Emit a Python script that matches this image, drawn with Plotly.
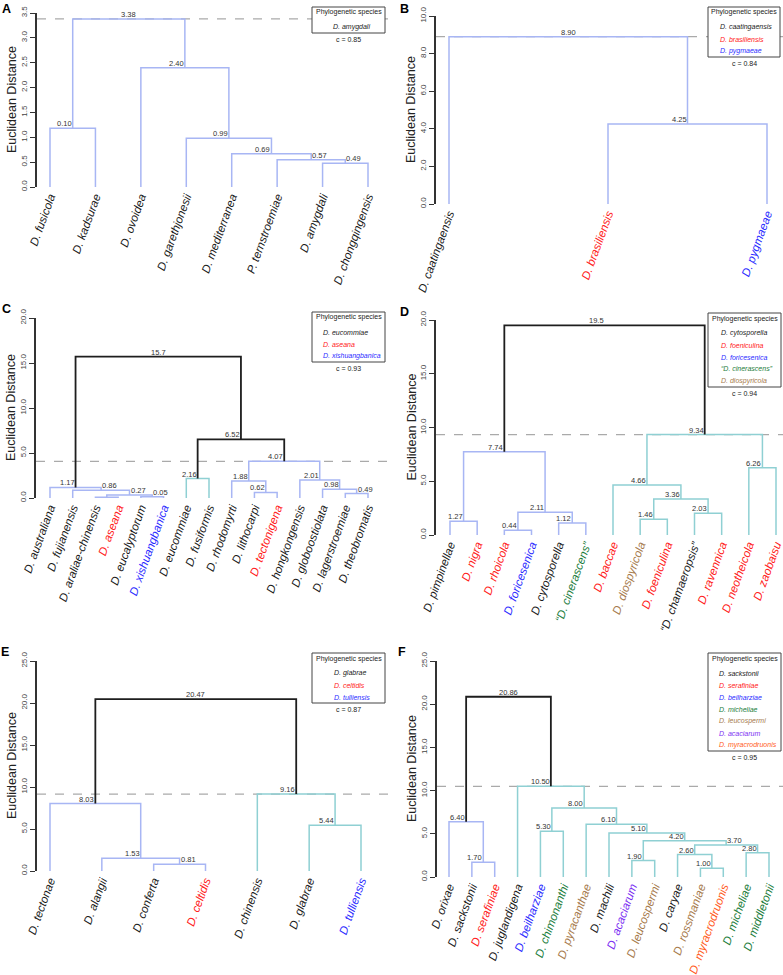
import plotly.graph_objects as go

W, H = 783, 975

# ======================= DATA =======================
# Panel A
A_leaves = ["D. fusicola", "D. kadsurae", "D. ovoidea", "D. garethjonesii",
            "D. mediterranea", "P. ternstroemiae", "D. amygdali", "D. chongqingensis"]
A_leaf_group = ["k", "k", "k", "k", "k", "k", "k", "k"]
A_left = [6, 5, 4, 3, 0, 2, 12]
A_right = [7, 8, 9, 10, 1, 11, 13]
A_height = [0.48, 0.55, 0.67, 0.98, 1.18, 2.40, 3.38]
A_label = ["0.49", "0.57", "0.69", "0.99", "0.10", "2.40", "3.38"]
A_cut = 3.38
A_legend = ["D. amygdali"]
A_legend_group = ["k"]
A_coph = "c = 0.85"

# Panel B
B_leaves = ["D. caatingaensis", "D. brasiliensis", "D. pygmaeae"]
B_leaf_group = ["k", "r", "b"]
B_left = [1, 0]
B_right = [2, 3]
B_height = [4.25, 8.90]
B_label = ["4.25", "8.90"]
B_cut = 8.90
B_legend = ["D. caatingaensis", "D. brasiliensis", "D. pygmaeae"]
B_legend_group = ["k", "r", "b"]
B_coph = "c = 0.84"

# Panel C
C_leaves = ["D. australiana", "D. fujianensis", "D. araliae-chinensis", "D. aseana",
            "D. eucalyptorum", "D. xishuangbanica", "D. eucommiae", "D. fusiformis",
            "D. rhodomyrti", "D. lithocarpi", "D. tectonigena", "D. hongkongensis",
            "D. globoostiolata", "D. lagerstroemiae", "D. theobromatis"]
C_leaf_group = ["k", "k", "k", "r", "k", "b", "k", "k", "k", "k", "r", "k", "k", "k", "k"]
C_left = [2, 4, 15, 1, 0, 6, 9, 8, 13, 12, 11, 22, 20, 19]
C_right = [3, 5, 16, 17, 18, 7, 10, 21, 14, 23, 24, 25, 26, 27]
C_height = [0.08, 0.15, 0.33, 0.86, 1.17, 2.16, 0.62, 1.88, 0.49, 0.98, 2.01, 4.07, 6.52, 15.7]
C_label = ["", "0.05", "0.27", "0.86", "1.17", "2.16", "0.62", "1.88", "0.49", "0.98",
           "2.01", "4.07", "6.52", "15.7"]
C_cut = 4.07
C_legend = ["D. eucommiae", "D. aseana", "D. xishuangbanica"]
C_legend_group = ["k", "r", "b"]
C_coph = "c = 0.93"

# Panel D
D_leaves = ["D. pimpinellae", "D. nigra", "D. rhoicola", "D. foricesenica", "D. cytosporella",
            "\u201cD. cinerascens\u201d", "D. baccae", "D. diospyricola", "D. foeniculina",
            "\u201cD. chamaeropsis\u201d", "D. ravennica", "D. neotheicola", "D. zaobaisu"]
D_leaf_group = ["k", "r", "r", "b", "k", "g", "r", "br", "r", "k", "r", "r", "r"]
D_left = [0, 2, 4, 14, 13, 7, 9, 18, 6, 11, 21, 17]
D_right = [1, 3, 5, 15, 16, 8, 10, 19, 20, 12, 22, 23]
D_height = [1.27, 0.44, 1.12, 2.11, 7.74, 1.46, 2.03, 3.36, 4.66, 6.26, 9.34, 19.5]
D_label = ["1.27", "0.44", "1.12", "2.11", "7.74", "1.46", "2.03", "3.36", "4.66", "6.26",
           "9.34", "19.5"]
D_cut = 9.34
D_legend = ["D. cytosporella", "D. foeniculina", "D. foricesenica", "\u201cD. cinerascens\u201d",
            "D. diospyricola"]
D_legend_group = ["k", "r", "b", "g", "br"]
D_coph = "c = 0.94"

# Panel E
E_leaves = ["D. tectonae", "D. alangii", "D. conferta", "D. celtidis", "D. chinensis",
            "D. glabrae", "D. tulliensis"]
E_leaf_group = ["k", "k", "k", "r", "k", "k", "b"]
E_left = [2, 1, 0, 5, 4, 9]
E_right = [3, 7, 8, 6, 10, 11]
E_height = [0.81, 1.53, 8.03, 5.44, 9.16, 20.47]
E_label = ["0.81", "1.53", "8.03", "5.44", "9.16", "20.47"]
E_cut = 9.16
E_legend = ["D. glabrae", "D. celtidis", "D. tulliensis"]
E_legend_group = ["k", "r", "b"]
E_coph = "c = 0.87"

# Panel F
F_leaves = ["D. orixae", "D. sackstonii", "D. serafiniae", "D. juglandigena", "D. beilharziae",
            "D. chimonanthi", "D. pyracanthae", "D. machili", "D. acaciarum", "D. leucospermi",
            "D. caryae", "D. rossmaniae", "D. myracrodruonis", "D. micheliae", "D. middletonii"]
F_leaf_group = ["k", "k", "r", "k", "b", "g", "br", "k", "pu", "br", "k", "br", "or", "g", "g"]
F_left = [1, 0, 11, 10, 13, 18, 8, 21, 7, 6, 4, 25, 3, 16]
F_right = [2, 15, 12, 17, 14, 19, 9, 20, 22, 23, 5, 24, 26, 27]
F_height = [1.70, 6.40, 1.00, 2.60, 2.80, 3.70, 1.90, 4.20, 5.10, 6.10, 5.30, 8.00, 10.50, 20.86]
F_label = ["1.70", "6.40", "1.00", "2.60", "2.80", "3.70", "1.90", "4.20", "5.10", "6.10",
           "5.30", "8.00", "10.50", "20.86"]
F_cut = 10.50
F_legend = ["D. sackstonii", "D. serafiniae", "D. beilharziae", "D. micheliae",
            "D. leucospermi", "D. acaciarum", "D. myracrodruonis"]
F_legend_group = ["k", "r", "b", "g", "br", "pu", "or"]
F_coph = "c = 0.95"

# ======================= STYLE / LAYOUT =======================
PAL = {"k": "#1a1a1a", "r": "#ff2020", "b": "#2b2bff", "g": "#1b7d3c",
       "br": "#a67a4c", "pu": "#7b2ff2", "or": "#ff5a22"}
BRANCH = {"blue": "#a8b6f4", "teal": "#8fd0d3"}
BLACK = "#1e1e1e"
FONT = "Liberation Sans, Arial, sans-serif"

# label alignment per merge (r = right of text at node, l = left, c = centered)
A_anchor = ["l", "l", "r", "r", "r", "r", "c"]
B_anchor = ["r", "c"]
C_anchor = ["r", "l", "l", "l", "r", "r", "r", "r", "l", "r", "r", "r", "r", "c"]
D_anchor = ["r"] * 12
E_anchor = ["l", "r", "r", "r", "r", "c"]
F_anchor = ["r", "r", "r", "r", "r", "l", "r", "r", "r", "r", "r", "r", "r", "c"]

# cluster colours (left to right) below the cut line
A_clusters = ["blue"]
B_clusters = ["blue"]
C_clusters = ["blue", "teal", "blue"]
D_clusters = ["blue", "teal"]
E_clusters = ["blue", "teal"]
F_clusters = ["blue", "teal"]

# panel geometry in pixels
GEOM = {
    "A": dict(ax=37, right=391, y0=187, ytop=13, top=3.5, dtick=0.5, xfirst=50, xlast=368),
    "B": dict(ax=436, right=783, y0=204, ytop=16, top=10.0, dtick=2.0, xfirst=449, xlast=767),
    "C": dict(ax=36, right=391, y0=498, ytop=318, top=20.0, dtick=5.0, xfirst=50, xlast=368),
    "D": dict(ax=436, right=783, y0=535, ytop=320, top=20.0, dtick=5.0, xfirst=450, xlast=776),
    "E": dict(ax=37, right=391, y0=871, ytop=661, top=25.0, dtick=5.0, xfirst=50, xlast=361),
    "F": dict(ax=437, right=783, y0=877, ytop=661, top=25.0, dtick=5.0, xfirst=449, xlast=769),
}
LEG = {  # box left, top, right, item left x, letter position
    "A": dict(bl=312, bt=7, br=385, il=331, letter=(6, 9)),
    "B": dict(bl=708, bt=7, br=780, il=718, letter=(404, 9)),
    "C": dict(bl=312, bt=312, br=385, il=321, letter=(6, 309)),
    "D": dict(bl=708, bt=313, br=781, il=719, letter=(404, 312)),
    "E": dict(bl=312, bt=653, br=385, il=332, letter=(5, 652)),
    "F": dict(bl=708, bt=653, br=781, il=717, letter=(402, 652)),
}
LEAF_FONT = 11.6


def px(xp):
    return xp / W


def py(yp):
    return 1 - yp / H


fig = go.Figure()
annotations = []
shapes = []
layout_axes = {}


def add_panel(i, letter, leaves, groups, left, right, heights, labels, anchors,
              cut, clusters, leg_names, leg_groups, coph):
    g = GEOM[letter]
    lg = LEG[letter]
    n = len(leaves)
    xa = "x" if i == 1 else f"x{i}"
    ya = "y" if i == 1 else f"y{i}"
    xkey = "xaxis" if i == 1 else f"xaxis{i}"
    ykey = "yaxis" if i == 1 else f"yaxis{i}"

    xs = [k + 1 for k in range(n)]
    hs = [0.0] * n
    for l, r, h in zip(left, right, heights):
        xs.append((xs[l] + xs[r]) / 2)
        hs.append(h)
    root = len(xs) - 1

    col = {}
    counter = [0]

    def visit(node, inherited):
        if node < n:
            return
        c = inherited
        if c is None and hs[node] <= cut + 1e-9:
            c = clusters[counter[0]]
            counter[0] += 1
        col[node] = c
        m = node - n
        visit(left[m], c)
        visit(right[m], c)

    visit(root, None)

    segs = {}
    for m, (l, r, h) in enumerate(zip(left, right, heights)):
        node = n + m
        c = BRANCH[col[node]] if col[node] else BLACK
        sx, sy = segs.setdefault(c, ([], []))
        sx.extend([xs[l], xs[l], xs[r], xs[r], None])
        sy.extend([hs[l], h, h, hs[r], None])
    for c, (sx, sy) in segs.items():
        fig.add_trace(go.Scatter(x=sx, y=sy, mode="lines",
                                 line=dict(color=c, width=1.8 if c == BLACK else 1.5),
                                 xaxis=xa, yaxis=ya, hoverinfo="skip", showlegend=False))

    amap = {"r": "right", "l": "left", "c": "center"}
    for m, (lab, anc) in enumerate(zip(labels, anchors)):
        if not lab:
            continue
        node = n + m
        annotations.append(dict(x=xs[node], y=hs[node], xref=xa, yref=ya, text=lab,
                                showarrow=False, xanchor=amap[anc], yanchor="bottom",
                                borderpad=0, yshift=-1,
                                font=dict(size=7.5, color="#333", family=FONT)))

    unit = (g["xlast"] - g["xfirst"]) / (n - 1)
    lo = 1 - (g["xfirst"] - g["ax"]) / unit
    hi = n + (g["right"] - g["xlast"]) / unit
    ticktext = [f'<span style="color:{PAL[gr]}"><i>{nm}</i></span>'
                for nm, gr in zip(leaves, groups)]
    layout_axes[xkey] = dict(domain=[px(g["ax"]), px(g["right"])], range=[lo, hi],
                             anchor=ya, tickmode="array", tickvals=xs[:n], ticktext=ticktext,
                             tickangle=-70, ticks="", showline=False, showgrid=False,
                             zeroline=False, automargin=False, ticklabeloverflow="allow",
                             tickfont=dict(size=LEAF_FONT, family=FONT, color="#111"))
    layout_axes[ykey] = dict(domain=[py(g["y0"]), py(g["ytop"])], range=[0, g["top"]],
                             anchor=xa, tick0=0, dtick=g["dtick"], tickformat=".1f",
                             ticks="outside", ticklen=5, tickwidth=1.2, tickcolor="#333",
                             showline=True, linecolor="#333", linewidth=1.5,
                             showgrid=False, zeroline=False, tickangle=-90, automargin=False,
                             tickfont=dict(size=8, family=FONT, color="#444"))

    # cut line
    shapes.append(dict(type="line", xref=f"{xa} domain", yref=ya, x0=0, x1=1, y0=cut, y1=cut,
                       line=dict(color="#aaaaaa", width=1.2, dash="dash"), layer="below"))

    # y title
    annotations.append(dict(x=px(g["ax"] - 25), y=(py(g["y0"]) + py(g["ytop"])) / 2,
                            xref="paper", yref="paper", text="Euclidean Distance",
                            textangle=-90, showarrow=False, xanchor="center", yanchor="middle",
                            font=dict(size=12.5, color="#222", family=FONT)))
    # panel letter
    lx, ly = lg["letter"]
    annotations.append(dict(x=px(lx), y=py(ly), xref="paper", yref="paper",
                            text=f"<b>{letter}</b>", showarrow=False,
                            xanchor="center", yanchor="middle",
                            font=dict(size=12.5, color="#000", family=FONT)))

    # legend box
    bt = lg["bt"]
    nitems = len(leg_names)
    bb = bt + 20 + 12 * (nitems - 1) + 6
    shapes.append(dict(type="rect", xref="paper", yref="paper",
                       x0=px(lg["bl"]), x1=px(lg["br"]), y0=py(bb), y1=py(bt),
                       fillcolor="white", line=dict(color="#444", width=1), layer="above"))
    cx = (lg["bl"] + lg["br"]) / 2
    annotations.append(dict(x=px(cx), y=py(bt + 5.5), xref="paper", yref="paper",
                            text="Phylogenetic species", showarrow=False,
                            xanchor="center", yanchor="middle",
                            font=dict(size=7, color="#222", family=FONT)))
    for k, (nm, gr) in enumerate(zip(leg_names, leg_groups)):
        annotations.append(dict(x=px(lg["il"]), y=py(bt + 20 + 12 * k), xref="paper",
                                yref="paper", text=f"<i>{nm}</i>", showarrow=False,
                                xanchor="left", yanchor="middle",
                                font=dict(size=7, color=PAL[gr], family=FONT)))
    annotations.append(dict(x=px(cx), y=py(bb + 6), xref="paper", yref="paper",
                            text=coph, showarrow=False, xanchor="center", yanchor="middle",
                            font=dict(size=7, color="#222", family=FONT)))


add_panel(1, "A", A_leaves, A_leaf_group, A_left, A_right, A_height, A_label, A_anchor,
          A_cut, A_clusters, A_legend, A_legend_group, A_coph)
add_panel(2, "B", B_leaves, B_leaf_group, B_left, B_right, B_height, B_label, B_anchor,
          B_cut, B_clusters, B_legend, B_legend_group, B_coph)
add_panel(3, "C", C_leaves, C_leaf_group, C_left, C_right, C_height, C_label, C_anchor,
          C_cut, C_clusters, C_legend, C_legend_group, C_coph)
add_panel(4, "D", D_leaves, D_leaf_group, D_left, D_right, D_height, D_label, D_anchor,
          D_cut, D_clusters, D_legend, D_legend_group, D_coph)
add_panel(5, "E", E_leaves, E_leaf_group, E_left, E_right, E_height, E_label, E_anchor,
          E_cut, E_clusters, E_legend, E_legend_group, E_coph)
add_panel(6, "F", F_leaves, F_leaf_group, F_left, F_right, F_height, F_label, F_anchor,
          F_cut, F_clusters, F_legend, F_legend_group, F_coph)

fig.update_layout(width=W, height=H, margin=dict(l=0, r=0, t=0, b=0, autoexpand=False),
                  paper_bgcolor="white", plot_bgcolor="white",
                  font=dict(family=FONT), showlegend=False,
                  annotations=annotations, shapes=shapes, **layout_axes)

fig.write_html("out.html", config={"displayModeBar": False},
               post_script="document.body.style.margin='0';document.body.style.overflow='hidden';")
